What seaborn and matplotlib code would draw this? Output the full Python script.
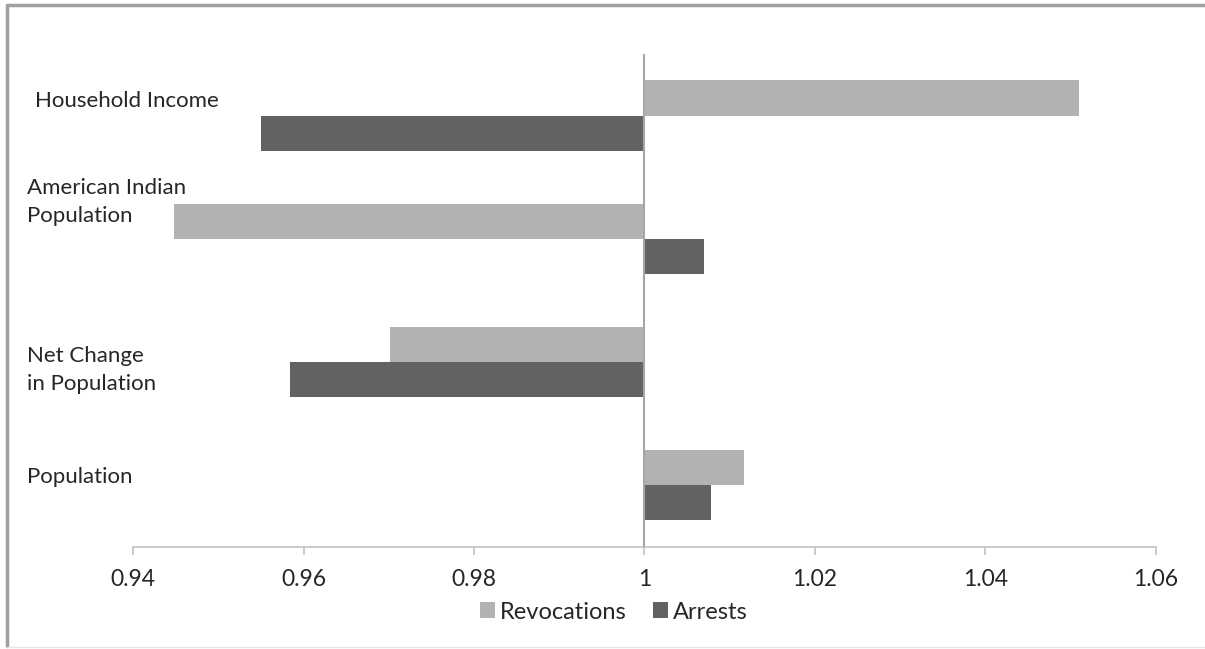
import matplotlib
matplotlib.use("Agg")
import matplotlib.pyplot as plt
import matplotlib.transforms as mtransforms
from matplotlib.lines import Line2D
from matplotlib.patches import Patch
from matplotlib.ticker import FuncFormatter, MultipleLocator
import seaborn as sns
import pandas as pd

# ---- data ----
categories = ["Household Income", "American Indian\nPopulation",
              "Net Change\nin Population", "Population"]
series = ["Revocations", "Arrests"]
revocations = [1.051, 0.9448, 0.9702, 1.0117]
arrests = [0.955, 1.0070, 0.9584, 1.0078]
x_ticks = [0.94, 0.96, 0.98, 1.00, 1.02, 1.04, 1.06]

base = 1.0
rows = []
for c, r, a in zip(categories, revocations, arrests):
    rows.append({"category": c, "series": "Revocations", "value": r})
    rows.append({"category": c, "series": "Arrests", "value": a})
df = pd.DataFrame(rows)
df["dev"] = df["value"] - base

# ---- style ----
sns.set_theme(style="white")
plt.rcParams["font.family"] = ["Lato", "DejaVu Sans"]
colors = {"Revocations": "#b2b2b2", "Arrests": "#626262"}
text_color = "#262626"
line_gray = "#a6a6a6"
axis_gray = "#bdbdbd"

fig = plt.figure(figsize=(12.05, 6.49), dpi=100)
ax = fig.add_axes([0.1104, 0.1572, 0.8489, 0.7596])

sns.barplot(data=df, x="dev", y="category", hue="series", order=categories,
            hue_order=series, palette=colors, width=0.57, orient="h",
            errorbar=None, ax=ax, legend=False, linewidth=0, saturation=1)

ax.set_xlim(x_ticks[0] - base, x_ticks[-1] - base)
ax.set_ylim(len(categories) - 0.5, -0.5)
ax.xaxis.set_major_locator(MultipleLocator(0.02))
ax.xaxis.set_major_formatter(FuncFormatter(lambda v, p: f"{round(v + base, 2):g}"))
ax.axvline(0, color=line_gray, lw=1.5, zorder=3)

for s in ["top", "right", "left"]:
    ax.spines[s].set_visible(False)
ax.spines["bottom"].set_color(axis_gray)
ax.spines["bottom"].set_linewidth(1.1)
ax.tick_params(axis="x", which="major", bottom=True, direction="out", length=6,
               width=1.1, color=axis_gray, labelsize=16.5, labelcolor=text_color, pad=10)
ax.set_yticks([])
ax.set_xlabel("")
ax.set_ylabel("")

# category labels (left-aligned, Excel-style placement)
label_offsets = [-0.12, -0.30, 0.06, -0.07]
label_x = [0.029, 0.022, 0.022, 0.022]
trans = mtransforms.blended_transform_factory(fig.transFigure, ax.transData)
for i, (c, off, lx) in enumerate(zip(categories, label_offsets, label_x)):
    ax.text(lx, i + off, c, transform=trans, ha="left", va="center",
            fontsize=16, color=text_color, linespacing=1.5, clip_on=False)

# legend
handles = [Patch(facecolor=colors[s], edgecolor="none", label=s) for s in series]
fig.legend(handles=handles, loc="center", bbox_to_anchor=(0.5095, 0.057), ncol=2,
           frameon=False, fontsize=17, handlelength=0.65, handleheight=0.65,
           handletextpad=0.2, columnspacing=1.1, labelcolor=text_color)

# outer frame (left, top, bottom)
fig.add_artist(Line2D([0.006, 0.006], [0.004, 0.992], transform=fig.transFigure,
                      color="#a0a0a0", lw=2.5))
fig.add_artist(Line2D([0.006, 1.0], [0.992, 0.992], transform=fig.transFigure,
                      color="#a0a0a0", lw=2.5))
fig.add_artist(Line2D([0.006, 1.0], [0.003, 0.003], transform=fig.transFigure,
                      color="#e6e6e6", lw=1))

fig.savefig("out.png", dpi=100)
